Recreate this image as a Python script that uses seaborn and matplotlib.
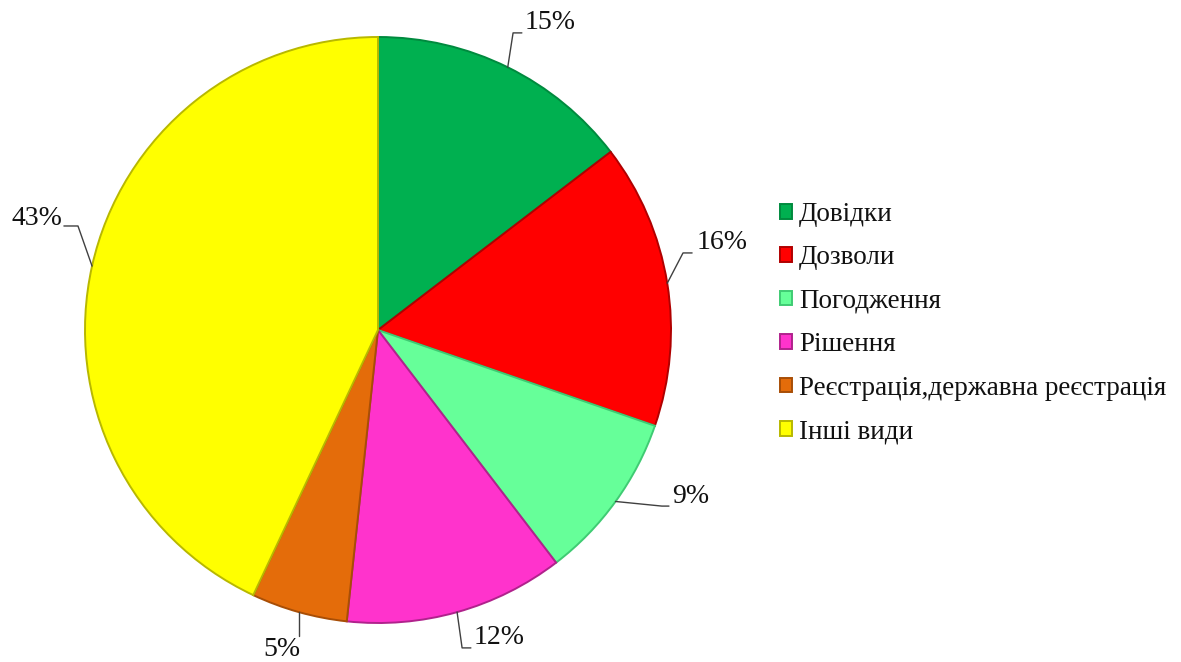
import matplotlib
matplotlib.use("Agg")
import matplotlib.pyplot as plt
import seaborn as sns
import numpy as np

# ---- data ----
categories = ["Довідки", "Дозволи", "Погодження", "Рішення",
              "Реєстрація,державна реєстрація", "Інші види"]
values = [14.6, 15.7, 9.3, 12.1, 5.3, 43.0]
colors = ["#00B050", "#FF0000", "#66FF99", "#FF33CC", "#E46C0A", "#FFFF00"]
edge_colors = ["#008A3E", "#B00000", "#3FCB73", "#B0228C", "#A84E06", "#B8B800"]

# ---- layout of labels (data units, radius = 1) ----
label_text_pos = [(0.502, 1.051), (1.089, 0.297), (1.003, -0.567),
                  (0.328, -1.048), (-0.328, -1.092), (-1.078, 0.382)]
label_ha = ["left", "left", "left", "left", "center", "right"]
label_elbow = [[(0.461, 1.014), (0.491, 1.014)],
               [(1.041, 0.263), (1.072, 0.263)],
               [(0.969, -0.601), (0.993, -0.601)],
               [(0.287, -1.085), (0.317, -1.085)],
               [None, None],
               [(-1.024, 0.355), (-1.072, 0.355)]]

sns.set_theme(style="white")
plt.rcParams['font.family'] = ['Liberation Serif', 'DejaVu Serif']

W, H = 1181, 662
fig = plt.figure(figsize=(W / 100, H / 100), dpi=100)
cx, cy, r = 378, 662 - 330, 293
ax = fig.add_axes([(cx - r) / W, (cy - r) / H, 2 * r / W, 2 * r / H])

wedges, _ = ax.pie(values, colors=colors, startangle=90, counterclock=False,
                   radius=1, wedgeprops=dict(linewidth=1.4))
for w, ec in zip(wedges, edge_colors):
    w.set_edgecolor(ec)

ax.set_xlim(-1, 1)
ax.set_ylim(-1, 1)
ax.set_aspect("equal")
ax.axis("off")

total = sum(values)
for i, (w, v) in enumerate(zip(wedges, values)):
    ang = np.deg2rad((w.theta1 + w.theta2) / 2)
    ax_, ay_ = np.cos(ang), np.sin(ang)
    tx, ty = label_text_pos[i]
    e1, e2 = label_elbow[i]
    if e1 is None:
        xs, ys = [ax_, ax_], [ay_, ty + 0.048]
    else:
        xs, ys = [ax_, e1[0], e2[0]], [ay_, e1[1], e2[1]]
    ax.plot(xs, ys, color="#404040", lw=1.0, clip_on=False)
    ax.text(tx, ty, f"{v / total * 100:.0f}%", ha=label_ha[i], va="center",
            fontsize=20, color="#111111", clip_on=False)

leg = fig.legend(wedges, categories, loc="center left",
                 bbox_to_anchor=(780 / W, 1 - 323 / H), frameon=False,
                 fontsize=19.5, handlelength=0.45, handleheight=0.45,
                 handletextpad=0.25, labelspacing=0.68, borderpad=0,
                 borderaxespad=0)
for t in leg.get_texts():
    t.set_color("#111111")

fig.savefig("out.png", dpi=100)
